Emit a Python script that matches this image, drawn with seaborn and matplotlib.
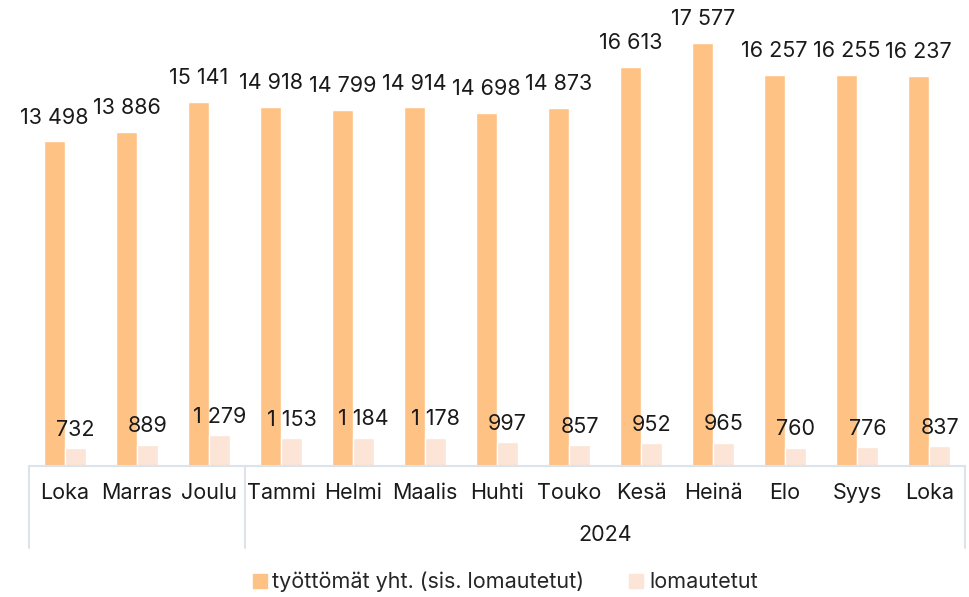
import pandas as pd
import numpy as np
import matplotlib.pyplot as plt
import matplotlib.transforms as mtransforms
import seaborn as sns

# data
months = ['Loka', 'Marras', 'Joulu', 'Tammi', 'Helmi', 'Maalis', 'Huhti',
          'Touko', 'Kesä', 'Heinä', 'Elo', 'Syys', 'Loka']
periods = ['2023-10', '2023-11', '2023-12', '2024-01', '2024-02', '2024-03', '2024-04',
           '2024-05', '2024-06', '2024-07', '2024-08', '2024-09', '2024-10']
tyottomat = [13498, 13886, 15141, 14918, 14799, 14914, 14698, 14873, 16613, 17577, 16257, 16255, 16237]
lomautetut = [732, 889, 1279, 1153, 1184, 1178, 997, 857, 952, 965, 760, 776, 837]
series_names = ['työttömät yht. (sis. lomautetut)', 'lomautetut']
year_label = '2024'
colors = ['#FFC285', '#FCE4D6']

df = pd.DataFrame({
    'period': periods * 2,
    'value': tyottomat + lomautetut,
    'series': [series_names[0]] * len(periods) + [series_names[1]] * len(periods),
})

sns.set_style('white')
plt.rcParams['font.family'] = ['Inter', 'DejaVu Sans']
fs = 15.5

fig = plt.figure(figsize=(9.7, 5.97), dpi=100)
ax = fig.add_axes([0.030, 0.2194, 0.965, 0.725])

sns.barplot(data=df, x='period', y='value', hue='series', order=periods,
            hue_order=series_names, palette=colors, width=0.58, gap=0,
            saturation=1, ax=ax, legend=True)

ax.set_xlim(-0.5, len(periods) - 0.5)
ax.set_ylim(0, 18000)
ax.set_xlabel('')
ax.set_ylabel('')
ax.set_yticks([])
for s in ax.spines.values():
    s.set_visible(False)

# value labels with space as thousand separator
for cont, vals, pad in zip(ax.containers, [tyottomat, lomautetut], [10, 6]):
    ax.bar_label(cont, labels=[f'{v:,}'.replace(',', ' ') for v in vals],
                 padding=pad, fontsize=fs, color='#1a1a1a')

# month tick labels
ax.set_xticks(range(len(months)))
ax.set_xticklabels(months, fontsize=fs, color='#1a1a1a')
ax.tick_params(axis='x', length=0, pad=12)

# two-level category axis lines
line_col = '#dde3ea'
tr = mtransforms.blended_transform_factory(ax.transData, ax.transAxes)
ax.plot([-0.5, len(periods) - 0.5], [0, 0], color=line_col, lw=1.5, transform=tr, clip_on=False)
for xb in [-0.5, 2.5, len(periods) - 0.5]:
    ax.plot([xb, xb], [0, -0.19], color=line_col, lw=1.5, transform=tr, clip_on=False)
ax.text((2.5 + len(periods) - 0.5) / 2, -0.16, year_label, transform=tr,
        ha='center', va='center', fontsize=fs, color='#1a1a1a')

# legend at bottom
ax.legend_.remove()
handles = [plt.Line2D([], [], marker='s', linestyle='', markersize=10, color=c) for c in colors]
fig.legend(handles, series_names, loc='center', bbox_to_anchor=(0.52, 0.025), ncol=2,
           frameon=False, fontsize=fs, handletextpad=0.2, columnspacing=2.0,
           handlelength=0.8)

fig.savefig('out.png', dpi=100)
